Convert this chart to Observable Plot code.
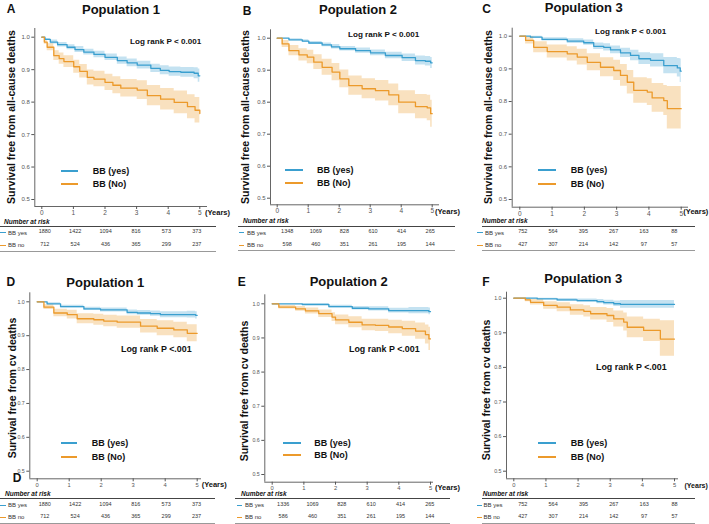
<!DOCTYPE html>
<html><head><meta charset="utf-8">
<script src="https://cdn.jsdelivr.net/npm/d3@7"></script>
<script src="https://cdn.jsdelivr.net/npm/@observablehq/plot@0.6"></script>
<style>
body{margin:0;background:#fff;}
#fig{position:relative;width:709px;height:524px;overflow:hidden;font-family:"Liberation Sans",Arial,sans-serif;background:#fff;}
#fig svg{position:absolute;left:0;top:0;}
.t{position:absolute;white-space:nowrap;line-height:1;}
.ln{position:absolute;}
</style></head><body><div id="fig"></div>
<script>
// ---------- DATA ----------
const timeTicks = [0, 1, 2, 3, 4, 5];
const survTicks = [0.5, 0.6, 0.7, 0.8, 0.9, 1.0];
const panelLetters = ["A", "B", "C", "D", "E", "F"];
const panelTitles = ["Population 1", "Population 2", "Population 3", "Population 1", "Population 2", "Population 3"];
const yTitles = ["Survival free from all-cause deaths", "Survival free from all-cause deaths", "Survival free from all-cause deaths",
  "Survival free from cv deaths", "Survival free from cv deaths", "Survival free from cv deaths"];
const logRankTexts = ["Log rank P < 0.001", "Log rank P < 0.001", "Log rank P < 0.001", "Log rank P <.001", "Log rank P <.001", "Log rank P <.001"];
const legendLabels = ["BB (yes)", "BB (No)"];
const riskRowLabels = ["BB yes", "BB no"];

// numbers at risk
const riskA_yes = [1880, 1422, 1094, 816, 573, 373];
const riskA_no  = [712, 524, 436, 365, 299, 237];
const riskB_yes = [1348, 1069, 828, 610, 414, 265];
const riskB_no  = [598, 460, 351, 261, 195, 144];
const riskC_yes = [752, 564, 395, 267, 163, 88];
const riskC_no  = [427, 307, 214, 142, 97, 57];
const riskD_yes = [1880, 1422, 1094, 816, 573, 373];
const riskD_no  = [712, 524, 436, 365, 299, 237];
const riskE_yes = [1336, 1069, 828, 610, 414, 265];
const riskE_no  = [586, 460, 351, 261, 195, 144];
const riskF_yes = [752, 564, 395, 267, 163, 88];
const riskF_no  = [427, 307, 214, 142, 97, 57];

// Kaplan-Meier steps: [time, survival, lower CI, upper CI]
const kmA_yes = [[0,1,1,1],[0.1,.993,.99,.996],[0.27,.985,.979,.991],[0.5,.977,.97,.984],[0.8,.969,.961,.977],[1.05,.962,.953,.971],[1.33,.954,.945,.963],[1.65,.947,.937,.957],[2.0,.938,.928,.948],[2.39,.928,.917,.939],[2.7,.921,.909,.933],[3.02,.914,.902,.926],[3.45,.904,.891,.917],[3.75,.898,.884,.912],[4.03,.894,.88,.908],[4.4,.892,.877,.907],[4.82,.889,.872,.906],[4.95,.881,.861,.902],[5,.881,.861,.902]];
const kmA_no = [[0,1,1,1],[0.08,.985,.978,.992],[0.17,.969,.958,.98],[0.38,.943,.928,.958],[0.55,.934,.917,.951],[0.7,.925,.907,.943],[1.01,.909,.889,.929],[1.2,.895,.874,.916],[1.44,.876,.853,.899],[1.65,.871,.847,.895],[2.0,.861,.836,.886],[2.25,.852,.826,.878],[2.5,.843,.816,.87],[3.02,.837,.808,.866],[3.34,.82,.789,.851],[3.76,.809,.776,.842],[4.19,.799,.764,.834],[4.61,.786,.749,.823],[4.85,.775,.736,.814],[5,.765,.728,.806]];
const kmB_yes = [[0,1,1,1],[.38,.995,.992,.998],[.81,.991,.987,.995],[1.02,.985,.98,.99],[1.45,.979,.973,.985],[1.75,.973,.966,.98],[2.02,.967,.96,.974],[2.53,.961,.953,.969],[3.01,.954,.945,.963],[3.49,.946,.936,.956],[4.03,.939,.927,.951],[4.46,.93,.916,.944],[4.78,.928,.913,.943],[4.95,.923,.905,.94],[5,.923,.905,.94]];
const kmB_no = [[0,1,1,1],[.16,.982,.971,.993],[.38,.961,.945,.977],[.7,.948,.929,.967],[.97,.941,.92,.962],[1.18,.925,.902,.948],[1.45,.909,.884,.934],[1.77,.894,.867,.921],[2.02,.873,.845,.901],[2.31,.852,.822,.882],[2.74,.842,.811,.873],[3.17,.836,.804,.868],[3.6,.823,.789,.857],[3.92,.8,.764,.836],[4.46,.786,.748,.824],[4.84,.782,.742,.822],[4.95,.764,.722,.806],[5,.764,.722,.806]];
const kmC_yes = [[0,1,1,1],[.33,.997,.994,1],[.69,.99,.985,.995],[1.47,.985,.978,.992],[1.98,.98,.972,.988],[2.29,.969,.959,.979],[2.6,.966,.955,.977],[2.81,.958,.946,.97],[3.12,.949,.935,.963],[3.43,.941,.925,.957],[3.69,.931,.913,.949],[4.05,.926,.906,.946],[4.46,.91,.885,.935],[4.88,.903,.875,.932],[4.97,.893,.858,.93],[5,.893,.858,.93]];
const kmC_no = [[0,1,1,1],[.18,.987,.976,.998],[.43,.966,.949,.983],[.85,.953,.933,.973],[1.47,.946,.924,.968],[1.78,.936,.912,.96],[2.09,.92,.894,.946],[2.5,.905,.876,.934],[2.91,.895,.864,.926],[3.12,.88,.847,.913],[3.33,.859,.823,.895],[3.53,.834,.795,.873],[3.95,.829,.788,.87],[4.1,.811,.767,.855],[4.46,.803,.757,.849],[4.57,.778,.716,.846],[5,.778,.716,.846]];
const kmD_yes = [[0,1,1,1],[.31,.994,.991,.997],[.73,.986,.982,.99],[1.46,.979,.974,.984],[1.98,.976,.97,.982],[2.81,.969,.962,.976],[3.13,.967,.96,.974],[3.54,.965,.957,.973],[3.85,.962,.953,.971],[4.69,.962,.952,.972],[4.95,.96,.949,.971],[5,.96,.949,.971]];
const kmD_no = [[0,1,1,1],[.21,.984,.977,.991],[.52,.967,.956,.978],[.94,.962,.949,.975],[1.25,.95,.935,.965],[1.77,.947,.931,.963],[2.08,.943,.926,.96],[2.5,.94,.922,.958],[3.23,.928,.908,.948],[3.75,.922,.9,.944],[4.27,.917,.894,.94],[4.69,.907,.882,.932],[5,.907,.882,.932]];
const kmE_yes = [[0,1,1,1],[.95,.998,.996,1],[1.79,.992,.988,.996],[2.53,.987,.982,.992],[3.05,.985,.979,.991],[3.68,.98,.973,.987],[4.32,.98,.971,.989],[4.95,.977,.968,.988],[5,.977,.968,.988]];
const kmE_no = [[0,1,1,1],[.21,.99,.985,.995],[.74,.985,.978,.992],[1.05,.979,.97,.988],[1.47,.971,.96,.982],[1.89,.961,.948,.974],[2,.953,.939,.967],[2.42,.946,.93,.962],[2.84,.938,.921,.955],[3.26,.937,.919,.955],[3.68,.932,.912,.952],[4.11,.927,.905,.949],[4.53,.92,.896,.944],[4.84,.91,.882,.938],[4.95,.897,.863,.931],[5,.897,.863,.931]];
const kmF_yes = [[0,1,1,1],[.73,.998,.996,1],[1.35,.995,.991,.999],[1.97,.993,.988,.998],[2.59,.99,.984,.996],[2.8,.987,.98,.994],[3.11,.984,.976,.992],[3.32,.982,.971,.993],[5,.982,.971,.993]];
const kmF_no = [[0,1,1,1],[.36,.995,.99,1],[.52,.988,.98,.996],[.93,.979,.968,.99],[1.35,.974,.961,.987],[1.76,.966,.951,.981],[2.18,.962,.946,.978],[2.39,.955,.937,.973],[2.9,.95,.93,.97],[3.11,.94,.917,.963],[3.42,.931,.905,.957],[3.53,.916,.886,.946],[4.04,.907,.875,.939],[4.56,.882,.832,.935],[5,.882,.832,.935]];

// ---------- STYLE / LAYOUT ----------
const BLUE = "#3a9fcf", ORANGE = "#ec9a2b";
const FONT = '"Liberation Sans", Arial, sans-serif';
const layout = [
  {axL:34.3, axR:207, axT:28, axB:206, x0:41.3, x5:199.3, y1:36.7, y05:199, letter:[11,8.5], title:[121,9], ylab:[10.7,116.7], logrank:[130,41.7], lr:8.1, leg:{x1:61,x2:78,y:[171,184.3],tx:92.7}, years:[205,212.7], ys:7.5, nar:[4,221.7], tl:[0,216], rows:[226,232.7,245,251], dash:[0,6], tx:8, dcol:[3,-3], tf:6},
  {axL:270, axR:439, axT:29.3, axB:204.3, x0:276.7, x5:431.7, y1:37.7, y05:197.7, letter:[247,11], title:[358,8.7], ylab:[245,116.7], logrank:[348,35], lr:8.1, leg:{x1:285,x2:303,y:[170,182.7],tx:317}, years:[435,211.5], ys:7.5, nar:[243,221], tl:[238,455], rows:[226.7,232.7,245,250.7], dash:[239,244], tx:247, dcol:[10,-2], tf:6},
  {axL:511.7, axR:688, axT:27.7, axB:206.7, x0:519.3, x5:680.7, y1:35.7, y05:199, letter:[486.7,9], title:[583.8,6.5], ylab:[488.3,116.7], logrank:[595,32.3], lr:8.1, leg:{x1:538,x2:556,y:[170,184.3],tx:570.7}, years:[683.3,212], ys:7.5, nar:[482,220.7], tl:[482,695], rows:[226,232.7,245,250.7], dash:[476.7,483], tx:485, dcol:[3,-7], tf:6},
  {axL:29.3, axR:201, axT:292.3, axB:478.3, x0:36.7, x5:196.7, y1:301.3, y05:470.7, letter:[10.8,282], title:[105.3,281.7], ylab:[11.7,387.5], logrank:[121,349.3], lr:8.9, leg:{x1:61,x2:77,y:[443.3,457.3],tx:91.7}, years:[201.7,485], ys:7.5, nar:[5,494], tl:[0,215], rows:[498.3,505,517.3,523.3], dash:[0,6], tx:8, dcol:[7.6,-0.7], tf:5.3},
  {axL:264.3, axR:433, axT:294.3, axB:481.7, x0:271.7, x5:430, y1:303.3, y05:474, letter:[241.7,282], title:[348.7,281], ylab:[244,391], logrank:[349,349.3], lr:8.9, leg:{x1:282.7,x2:301,y:[442.7,455],tx:314.3}, years:[435,487.7], ys:7.5, nar:[241,494.3], tl:[235,450], rows:[498.3,505,517.3,523.3], dash:[237,242], tx:245, dcol:[11,-0.7], tf:5.3},
  {axL:506, axR:678, axT:291.7, axB:478.3, x0:513.3, x5:674, y1:297.7, y05:470.7, letter:[486,282], title:[583.3,278], ylab:[486,390], logrank:[596,367.3], lr:8.9, leg:{x1:538,x2:556,y:[442.7,457.3],tx:570.7}, years:[684.5,485], ys:7, nar:[482.7,494], tl:[482,695], rows:[498.3,505,517.3,523.3], dash:[476.7,481.7], tx:483.5, dcol:[9,0], tf:5.3}
];
const kmData = [[kmA_yes,kmA_no],[kmB_yes,kmB_no],[kmC_yes,kmC_no],[kmD_yes,kmD_no],[kmE_yes,kmE_no],[kmF_yes,kmF_no]];
const riskData = [[riskA_yes,riskA_no],[riskB_yes,riskB_no],[riskC_yes,riskC_no],[riskD_yes,riskD_no],[riskE_yes,riskE_no],[riskF_yes,riskF_no]];

const fig = document.getElementById("fig");
const textLayer = document.createElement("div");
function txt(s, x, y, o = {}) {
  const d = document.createElement("div");
  d.className = "t";
  d.textContent = s;
  const st = d.style;
  st.left = x + "px"; st.top = y + "px";
  st.fontSize = (o.size || 8) + "px";
  st.fontWeight = o.bold ? "bold" : "normal";
  if (o.italic) st.fontStyle = "italic";
  st.color = o.color || "#111";
  const ax = o.anchor === "center" || o.rotate ? "-50%" : o.anchor === "right" ? "-100%" : "0";
  st.transform = `translate(${ax},-50%)` + (o.rotate ? " rotate(-90deg)" : "");
  textLayer.appendChild(d);
}
function hline(x1, x2, y, color, w) {
  const d = document.createElement("div");
  d.className = "ln";
  d.style.left = Math.round(x1) + "px"; d.style.width = Math.round(x2 - x1) + "px";
  d.style.top = Math.round(y - w / 2) + "px"; d.style.height = w + "px";
  d.style.background = color;
  textLayer.appendChild(d);
}

layout.forEach((L, p) => {
  const kx = (L.x5 - L.x0) / 5, ky = (L.y05 - L.y1) / 0.5;
  const xdom = [(L.axL - L.x0) / kx, (L.axR - L.x0) / kx];
  const ydom = [0.5 - (L.axB - L.y05) / ky, 1 + (L.y1 - L.axT) / ky];
  const colors = [BLUE, ORANGE];
  const marks = [];
  kmData[p].forEach((d, i) => marks.push(Plot.areaY(d, {x: r => r[0], y1: r => r[2], y2: r => r[3], curve: "step-after", fill: colors[i], fillOpacity: 0.3})));
  kmData[p].forEach((d, i) => marks.push(Plot.line(d, {x: r => r[0], y: r => r[1], curve: "step-after", stroke: colors[i], strokeWidth: 1.3})));
  marks.push(Plot.ruleX([xdom[0]], {stroke: "#666", strokeWidth: 1}));
  marks.push(Plot.ruleY([ydom[0]], {stroke: "#666", strokeWidth: 1}));
  marks.push(Plot.axisX({ticks: timeTicks, tickFormat: "d", tickSize: 3, tickPadding: 1, label: null, fontSize: L.tf + 0.5}));
  marks.push(Plot.axisY({ticks: survTicks, tickFormat: ".1f", tickSize: 3, tickPadding: 2, label: null, fontSize: L.tf}));
  riskData[p].forEach((row, r) => row.forEach((n, i) => {
    marks.push(Plot.text([{t: timeTicks[i], n}], {x: "t", text: d => String(d.n), frameAnchor: "bottom",
      dy: L.rows[r + 1] - L.axB, dx: L.dcol[0] + (L.dcol[1] - L.dcol[0]) * i / 5, fontSize: 5.5, fill: "#333"}));
  }));
  const svg = Plot.plot({
    width: 709, height: 524,
    marginLeft: L.axL, marginRight: 709 - L.axR, marginTop: L.axT, marginBottom: 524 - L.axB,
    style: {background: "none", fontFamily: FONT, color: "#555", overflow: "visible", maxWidth: "none"},
    x: {domain: xdom}, y: {domain: ydom},
    marks
  });
  fig.appendChild(svg);

  txt(panelLetters[p], L.letter[0], L.letter[1], {size: 12, bold: true, anchor: "center"});
  txt(panelTitles[p], L.title[0], L.title[1], {size: 13, bold: true, anchor: "center"});
  txt(yTitles[p], L.ylab[0], L.ylab[1], {size: 10.5, bold: true, rotate: true});
  txt(logRankTexts[p], L.logrank[0], L.logrank[1], {size: L.lr, bold: true});
  [0, 1].forEach(i => {
    hline(L.leg.x1, L.leg.x2, L.leg.y[i], colors[i], 2);
    txt(legendLabels[i], L.leg.tx, L.leg.y[i], {size: 9, bold: true});
  });
  txt("(Years)", L.years[0], L.years[1], {size: L.ys, bold: true});
  txt("Number at risk", L.nar[0], L.nar[1], {size: 6.5, bold: true, italic: true});
  hline(L.tl[0], L.tl[1], L.rows[0], "#444", 1);
  hline(L.tl[0], L.tl[1], L.rows[3], "#999", 1);
  [0, 1].forEach(i => {
    hline(L.dash[0], L.dash[1], L.rows[i + 1], colors[i], 1);
    txt(riskRowLabels[i], L.tx, L.rows[i + 1], {size: 6, color: "#333"});
  });
});
// stray panel letter overlapping panel D's axis in the original
txt("D", 17, 478, {size: 12, bold: true, anchor: "center"});
fig.appendChild(textLayer);
</script></body></html>
